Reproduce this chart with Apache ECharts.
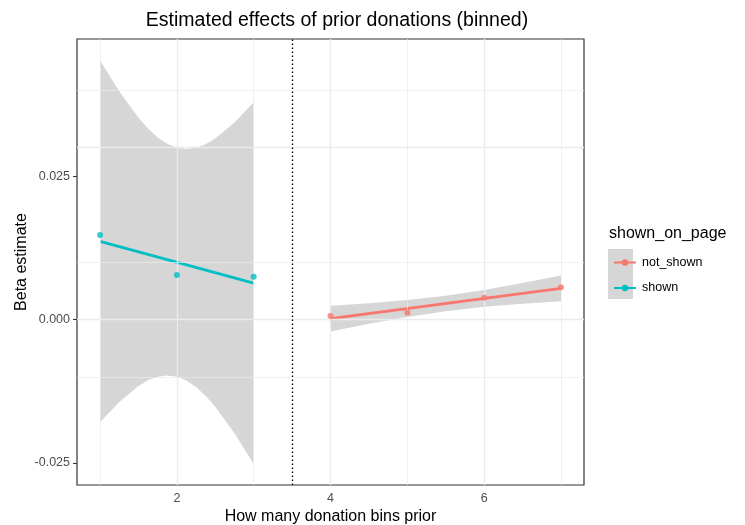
<!DOCTYPE html>
<html>
<head>
<meta charset="utf-8">
<script src="https://cdn.jsdelivr.net/npm/echarts@6/dist/echarts.min.js"></script>
<style>html,body{margin:0;padding:0;background:#fff}#c{width:745px;height:525px}</style>
</head>
<body>
<div id="c"></div>
<script>
// ---- data ----
const xTicks = [2, 4, 6];
const xMinor = [1, 3, 5, 7];
const yTicks = [-0.025, 0, 0.025];
const yMinor = [-0.0125, 0.0125, 0.0375];

const shownX = [1, 2, 3];
const shownY = [0.01473, 0.00776, 0.00746];
const notShownX = [4, 5, 6, 7];
const notShownY = [0.00061, 0.00119, 0.0038, 0.00561];

const shownFitX = [1, 3];
const shownFitY = [0.01362, 0.00635];
const notShownFitX = [4, 7];
const notShownFitY = [0.00016, 0.00544];

const shownBandX = [1, 1.25, 1.5, 1.625, 1.75, 1.875, 2, 2.125, 2.25, 2.375, 2.5, 2.75, 3];
const shownBandHi = [0.04516, 0.03979, 0.03519, 0.03330, 0.03175, 0.03062, 0.02993, 0.02971, 0.02994, 0.03057, 0.03156, 0.03434, 0.03789];
const shownBandLo = [-0.01792, -0.01437, -0.01159, -0.01060, -0.00997, -0.00974, -0.00997, -0.01065, -0.01178, -0.01333, -0.01522, -0.01982, -0.02519];

const notShownBandX = [4, 4.5, 5, 5.5, 6, 6.5, 7];
const notShownBandHi = [0.00241, 0.00284, 0.00339, 0.00415, 0.00515, 0.00637, 0.00769];
const notShownBandLo = [-0.00209, -0.00076, 0.00045, 0.00146, 0.00221, 0.00276, 0.00320];

const cutX = 3.5;

const COL_NS = '#F8766D';
const COL_S = '#00BFC4';
const FONT = '"Liberation Sans", Arial, sans-serif';

function zip(xs, ys) { return xs.map((x, i) => [x, ys[i]]); }

function bandSeries(xs, hi, lo) {
  return {
    type: 'custom',
    silent: true,
    z: 2,
    data: [[xs[0], hi[0]]],
    encode: { x: 0, y: 1 },
    renderItem: function (params, api) {
      const pts = [];
      for (let i = 0; i < xs.length; i++) pts.push(api.coord([xs[i], hi[i]]));
      for (let i = xs.length - 1; i >= 0; i--) pts.push(api.coord([xs[i], lo[i]]));
      return { type: 'polygon', shape: { points: pts }, style: { fill: 'rgba(153,153,153,0.4)', stroke: null } };
    }
  };
}

const gridLines = [];
xMinor.forEach(v => gridLines.push({ xAxis: v, lineStyle: { width: 0.7 } }));
xTicks.forEach(v => gridLines.push({ xAxis: v, lineStyle: { width: 1.3 } }));
yMinor.forEach(v => gridLines.push({ yAxis: v, lineStyle: { width: 0.7 } }));
yTicks.forEach(v => gridLines.push({ yAxis: v, lineStyle: { width: 1.3 } }));

const legendIcon = 'path://M0,2.4 L22,2.4 L22,4.6 L0,4.6 Z M11,0.3 A3.2,3.2 0 1 1 10.99,0.3 Z';

const option = {
  animation: false,
  backgroundColor: '#fff',
  title: {
    text: 'Estimated effects of prior donations (binned)',
    left: 332, top: 6, textAlign: 'center',
    textStyle: { fontFamily: FONT, fontSize: 19.5, fontWeight: 'normal', color: '#000' }
  },
  grid: { left: 77, top: 39, right: 161, bottom: 40, outerBoundsMode: 'none', containLabel: false,
    show: true, borderColor: '#333', borderWidth: 1.2, backgroundColor: '#fff' },
  xAxis: {
    type: 'value', min: 0.7, max: 7.3,
    name: 'How many donation bins prior', nameLocation: 'middle', nameGap: 24, nameMoveOverlap: false,
    nameTextStyle: { fontFamily: FONT, fontSize: 16, color: '#000' },
    axisLine: { show: false },
    axisTick: { show: true, length: 4, customValues: xTicks, lineStyle: { color: '#333', width: 1.1 } },
    axisLabel: { customValues: xTicks, margin: 7, fontFamily: FONT, fontSize: 12.5, color: '#4d4d4d' },
    splitLine: { show: false }
  },
  yAxis: {
    type: 'value', min: -0.02885, max: 0.0489,
    name: 'Beta estimate', nameLocation: 'middle', nameGap: 47, nameMoveOverlap: false,
    nameTextStyle: { fontFamily: FONT, fontSize: 16, color: '#000' },
    axisLine: { show: false },
    axisTick: { show: true, length: 4, customValues: yTicks, lineStyle: { color: '#333', width: 1.1 } },
    axisLabel: { customValues: yTicks, margin: 7, fontFamily: FONT, fontSize: 12.5, color: '#4d4d4d',
      formatter: v => v.toFixed(3) },
    splitLine: { show: false }
  },
  legend: {
    orient: 'vertical', left: 609, top: 251,
    itemWidth: 22, itemHeight: 7, itemGap: 12.5,
    selectedMode: false,
    textStyle: { fontFamily: FONT, fontSize: 12.5, color: '#000', padding: [0, 0, 0, 1] },
    data: [{ name: 'not_shown', icon: legendIcon }, { name: 'shown', icon: legendIcon }]
  },
  graphic: [
    { type: 'rect', left: 608, top: 249, z: -1, shape: { width: 25, height: 50 }, style: { fill: '#d6d6d6' } },
    { type: 'text', left: 609, top: 226, style: { text: 'shown_on_page', font: '16px ' + FONT, fill: '#000' } }
  ],
  series: [
    {
      type: 'line', data: [], silent: true, z: 1,
      markLine: { silent: true, symbol: 'none', label: { show: false }, animation: false,
        lineStyle: { color: '#ebebeb', type: 'solid' }, data: gridLines }
    },
    bandSeries(shownBandX, shownBandHi, shownBandLo),
    bandSeries(notShownBandX, notShownBandHi, notShownBandLo),
    {
      type: 'line', data: [], silent: true, z: 3,
      markLine: { silent: true, symbol: 'none', label: { show: false }, animation: false,
        lineStyle: { color: '#000', type: [1.4, 2.6], width: 1.3 }, data: [{ xAxis: cutX }] }
    },
    { name: 'not_shown', type: 'line', data: zip(notShownFitX, notShownFitY), showSymbol: false, z: 4,
      color: COL_NS, lineStyle: { width: 2.7, color: COL_NS } },
    { name: 'shown', type: 'line', data: zip(shownFitX, shownFitY), showSymbol: false, z: 4,
      color: COL_S, lineStyle: { width: 2.7, color: COL_S } },
    { name: 'not_shown', type: 'scatter', data: zip(notShownX, notShownY), symbolSize: 6, z: 5,
      itemStyle: { color: COL_NS } },
    { name: 'shown', type: 'scatter', data: zip(shownX, shownY), symbolSize: 6, z: 5,
      itemStyle: { color: COL_S } }
  ]
};

const chart = echarts.init(document.getElementById('c'), null, { renderer: 'canvas' });
chart.setOption(option);
</script>
</body>
</html>
